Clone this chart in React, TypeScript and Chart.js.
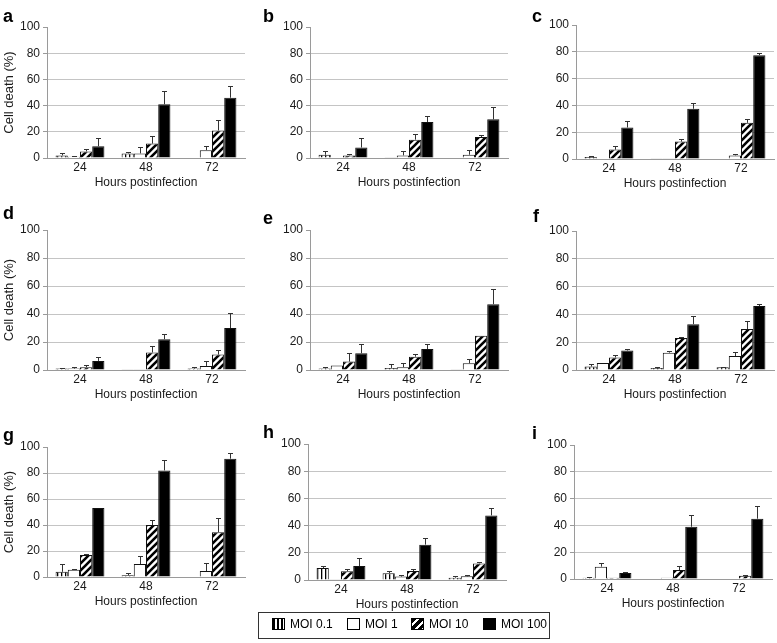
import React, { useEffect, useRef } from 'react';
import { Chart, registerables } from 'chart.js';
Chart.register(...registerables);

// ---------- data ----------
const panelLetters = ['a', 'b', 'c', 'd', 'e', 'f', 'g', 'h', 'i'];
const hours = ['24', '48', '72'];
const seriesNames = ['MOI 0.1', 'MOI 1', 'MOI 10', 'MOI 100'];
const yTickStep = 20;
const yMax = 100;

// one row per panel (a..i), values at 24 / 48 / 72 h
const moi01 = [[2, 3.5, 0.3], [2.5, 0.5, 0.3], [1.5, 0.5, 0.3], [1, 0.5, 1], [1, 1.5, 0.5], [2.5, 1.5, 2], [4, 1.3, 0.3], [8.8, 4.9, 1.7], [1, 0.3, 0.3]];
const moi01Err = [[1.8, 0.8, 0], [3, 0, 0], [1, 0, 0], [0.5, 0, 1], [1, 2.5, 0], [1.5, 0.5, 0.5], [6, 1.5, 0], [1.5, 1.7, 1], [0.5, 0, 0]];
const moi1 = [[1, 3.5, 6], [0.3, 2, 2.5], [0.3, 0.5, 2.7], [1, 0.5, 2.9], [3.3, 2, 4.8], [5, 12.5, 10], [5.5, 10, 4.6], [0.5, 2.5, 2.7], [9.2, 1, 0]];
const moi1Err = [[0.8, 4.8, 3], [0, 3.3, 3.4], [0, 0, 1], [0.8, 0, 3.8], [0, 3, 3.3], [0, 1.5, 3], [0.5, 6, 6.5], [0, 1.5, 1], [2.5, 0, 0]];
const moi10 = [[5, 11, 21], [2, 14, 16], [7, 13, 27], [2, 12.5, 11], [6, 9.5, 24.5], [9, 23, 29.5], [17, 40, 34.5], [6.4, 6.6, 12.2], [1, 6.7, 2.5]];
const moi10Err = [[2, 6, 8], [1.3, 4.6, 1.8], [3, 1.7, 2.5], [1.7, 4.3, 3.6], [6, 1.7, 0], [2, 0.5, 5.5], [0.5, 4, 11], [1.6, 1.4, 1.3], [0, 3.3, 0.2]];
const moi100 = [[9, 41, 46], [8, 27.5, 29.5], [23.5, 37.5, 77.5], [6.5, 22, 30], [12, 15, 47], [14, 33, 46], [53, 82, 91], [10.3, 26, 47.5], [4.5, 39, 45]];
const moi100Err = [[6, 10.5, 9], [7.2, 4.3, 9.4], [5, 4, 1.8], [3.1, 3.6, 10.7], [6.4, 3.9, 11], [1, 5.5, 1.5], [0, 8, 4.5], [6, 5, 5.5], [0.5, 9, 9.7]];

// ---------- layout ----------
const PAGE_W = 777;
const PAGE_H = 643;
const PLOT_W = 198;
const YAXIS_W = 47;
const XAXIS_H = 37;
// [plotLeft, plotTop, plotBottom]
const plotBoxes = [
  [47, 27, 158], [310, 27, 158], [576, 25, 159],
  [47, 230, 370], [310, 230, 370], [576, 231, 370],
  [47, 447, 577], [308, 444, 580], [574, 445, 579],
];
const letterPos = [[3, 22], [263, 22], [532, 22], [3, 219], [263, 224], [533, 222], [3, 441], [263, 438], [532, 439]];
// legend: [swatchLeft, textLeft]
const legendPos = [[272, 290], [347, 365], [411, 429], [483, 501]];
const legendSwatchBg = [
  'repeating-linear-gradient(90deg, #000 0px, #000 2px, #fff 2px, #fff 4px)',
  '#fff',
  'repeating-linear-gradient(135deg, #000 0px, #000 3px, #fff 3px, #fff 5.5px)',
  '#000',
];

const FONT = "'Liberation Sans', Arial, Helvetica, sans-serif";
const TEXT = '#1a1a1a';

function makePatterns(ctx: CanvasRenderingContext2D) {
  const v = document.createElement('canvas');
  v.width = 4; v.height = 4;
  const vc = v.getContext('2d')!;
  vc.fillStyle = '#fff'; vc.fillRect(0, 0, 4, 4);
  vc.fillStyle = '#000'; vc.fillRect(1, 0, 1.3, 4);
  const d = document.createElement('canvas');
  d.width = 7; d.height = 7;
  const dc = d.getContext('2d')!;
  dc.fillStyle = '#fff'; dc.fillRect(0, 0, 7, 7);
  dc.strokeStyle = '#000'; dc.lineWidth = 2.6;
  dc.beginPath();
  dc.moveTo(0, 7); dc.lineTo(7, 0);
  dc.moveTo(-2, 2); dc.lineTo(2, -2);
  dc.moveTo(5, 9); dc.lineTo(9, 5);
  dc.stroke();
  return [ctx.createPattern(v, 'repeat')!, '#ffffff', ctx.createPattern(d, 'repeat')!, '#000000'];
}

const errorBarPlugin = {
  id: 'errorBars',
  afterDatasetsDraw(chart: any) {
    const ctx = chart.ctx;
    const yScale = chart.scales.y;
    chart.data.datasets.forEach((ds: any, i: number) => {
      const errs = ds.errorBars;
      if (!errs) return;
      const meta = chart.getDatasetMeta(i);
      meta.data.forEach((el: any, j: number) => {
        const e = errs[j];
        if (!e) return;
        const v = ds.data[j];
        const y0 = yScale.getPixelForValue(v);
        const y1 = Math.round(yScale.getPixelForValue(v + e)) + 0.5;
        const x = Math.round(el.x) + 0.5;
        ctx.save();
        ctx.strokeStyle = '#333';
        ctx.lineWidth = 1;
        ctx.beginPath();
        ctx.moveTo(x, y0);
        ctx.lineTo(x, y1);
        ctx.moveTo(x - 2.5, y1);
        ctx.lineTo(x + 2.5, y1);
        ctx.stroke();
        ctx.restore();
      });
    });
  },
};

const letterPlugin = {
  id: 'panelLetter',
  afterDraw(chart: any, _args: any, opts: any) {
    const ctx = chart.ctx;
    ctx.save();
    ctx.font = `bold 18px ${FONT}`;
    ctx.fillStyle = '#000';
    ctx.textAlign = 'left';
    ctx.textBaseline = 'alphabetic';
    ctx.fillText(opts.text, opts.x, opts.y);
    ctx.restore();
  },
};

export default function App() {
  const canvasRefs = useRef<(HTMLCanvasElement | null)[]>([]);

  useEffect(() => {
    const charts: Chart[] = [];
    const means = [moi01, moi1, moi10, moi100];
    const errs = [moi01Err, moi1Err, moi10Err, moi100Err];

    panelLetters.forEach((letter, p) => {
      const cv = canvasRefs.current[p];
      if (!cv) return;
      const ctx = cv.getContext('2d')!;
      const fills = makePatterns(ctx);
      const [L, T, B] = plotBoxes[p];
      const leftCol = p % 3 === 0;
      const chart = new Chart(ctx, {
        type: 'bar',
        data: {
          labels: hours,
          datasets: seriesNames.map((name, s) => ({
            label: name,
            data: means[s][p],
            errorBars: errs[s][p],
            backgroundColor: fills[s],
            borderColor: '#111',
            borderWidth: 1,
            categoryPercentage: 0.74,
            barPercentage: 1.0,
          })) as any,
        },
        options: {
          animation: false,
          responsive: false,
          devicePixelRatio: 1,
          events: [],
          layout: {
            padding: {
              left: L - YAXIS_W,
              top: T,
              right: PAGE_W - (L + PLOT_W),
              bottom: PAGE_H - B - XAXIS_H,
            },
          },
          plugins: {
            legend: { display: false },
            tooltip: { enabled: false },
            panelLetter: { text: letter, x: letterPos[p][0], y: letterPos[p][1] },
          } as any,
          scales: {
            x: {
              grid: { display: false, drawTicks: false },
              border: { display: true, color: '#9a9a9a', width: 1 },
              ticks: { padding: 2, color: TEXT, font: { family: FONT, size: 12 } },
              title: {
                display: true,
                text: 'Hours postinfection',
                color: TEXT,
                font: { family: FONT, size: 12 },
                padding: { top: 0, bottom: 5 },
              },
              afterFit: (s: any) => { s.height = XAXIS_H; },
            },
            y: {
              min: 0,
              max: yMax,
              ticks: { stepSize: yTickStep, padding: 3, color: TEXT, font: { family: FONT, size: 12 } },
              grid: {
                color: (c: any) => (c.tick && (c.tick.value === yMax || c.tick.value === 0) ? 'rgba(0,0,0,0)' : '#c4c4c4'),
                tickColor: '#9a9a9a',
                tickLength: 4,
                drawTicks: true,
                lineWidth: 1,
              },
              border: { display: true, color: '#9a9a9a', width: 1 },
              title: {
                display: leftCol,
                text: 'Cell death (%)',
                color: TEXT,
                font: { family: FONT, size: 13 },
                padding: { top: 2, bottom: 0 },
              },
              afterFit: (s: any) => { s.width = YAXIS_W; },
            },
          } as any,
        },
        plugins: [errorBarPlugin, letterPlugin],
      });
      charts.push(chart);
    });

    return () => charts.forEach((c) => c.destroy());
  }, []);

  return (
    <div style={{ position: 'absolute', left: 0, top: 0, width: PAGE_W, height: PAGE_H, background: '#fff', overflow: 'hidden', fontFamily: FONT }}>
      {panelLetters.map((l, i) => (
        <canvas
          key={l}
          ref={(el) => { canvasRefs.current[i] = el; }}
          width={PAGE_W}
          height={PAGE_H}
          style={{ position: 'absolute', left: 0, top: 0, width: PAGE_W, height: PAGE_H }}
        />
      ))}
      <div style={{ position: 'absolute', left: 258, top: 612, width: 292, height: 27, border: '1px solid #333', boxSizing: 'border-box' }} />
      {seriesNames.map((name, s) => (
        <React.Fragment key={name}>
          <div
            style={{
              position: 'absolute', left: legendPos[s][0], top: 618, width: 13, height: 12,
              border: '1px solid #000', boxSizing: 'border-box', background: legendSwatchBg[s],
            }}
          />
          <span
            style={{
              position: 'absolute', left: legendPos[s][1], top: 617, height: 14, lineHeight: '14px',
              fontSize: 12, color: '#000', whiteSpace: 'nowrap',
            }}
          >
            {name}
          </span>
        </React.Fragment>
      ))}
    </div>
  );
}
